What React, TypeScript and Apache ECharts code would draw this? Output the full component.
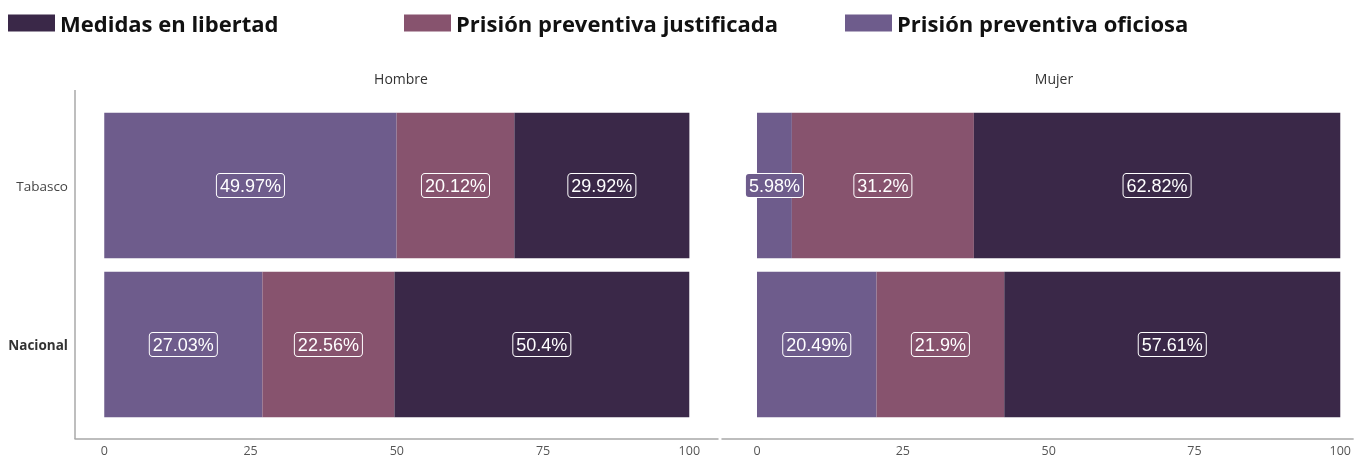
import React, { useEffect, useRef } from "react";
import * as echarts from "echarts";

const categories = ["Tabasco", "Nacional"];
const panels = ["Hombre", "Mujer"];
const seriesNames = ["Prisión preventiva oficiosa", "Prisión preventiva justificada", "Medidas en libertad"];
const legendOrder = ["Medidas en libertad", "Prisión preventiva justificada", "Prisión preventiva oficiosa"];
const colors: Record<string, string> = {
  "Medidas en libertad": "#3a2848",
  "Prisión preventiva justificada": "#87536e",
  "Prisión preventiva oficiosa": "#6e5c8c",
};
const tickValues = [0, 25, 50, 75, 100];

// values per panel: [Tabasco, Nacional]
const hombreOficiosa = [49.97, 27.03];
const hombreJustificada = [20.12, 22.56];
const hombreLibertad = [29.92, 50.4];
const mujerOficiosa = [5.98, 20.49];
const mujerJustificada = [31.2, 21.9];
const mujerLibertad = [62.82, 57.61];

export default function App() {
  const ref = useRef<HTMLDivElement>(null);
  useEffect(() => {
    if (!ref.current) return;
    const chart = echarts.init(ref.current, undefined, { renderer: "svg" });
    const font = "'Open Sans', sans-serif";
    const panelData = [
      [hombreOficiosa, hombreJustificada, hombreLibertad],
      [mujerOficiosa, mujerJustificada, mujerLibertad],
    ];
    const series: any[] = [];
    panelData.forEach((arrs, pi) => {
      arrs.forEach((vals, si) => {
        const name = seriesNames[si];
        series.push({
          type: "bar",
          name,
          stack: "s" + pi,
          xAxisIndex: pi,
          yAxisIndex: pi,
          barWidth: "91.5%",
          itemStyle: { color: colors[name] },
          label: {
            show: true,
            position: "inside",
            formatter: "{c}%",
            color: "#ffffff",
            fontSize: 18,
            fontFamily: "'Liberation Sans', Arial, sans-serif",
            backgroundColor: colors[name],
            borderColor: "#ffffff",
            borderWidth: 1,
            borderRadius: 3,
            padding: [3, 3, 2, 3],
          },
          data: vals,
        });
      });
    });
    const legendLefts = [8, 404, 845];
    const xCommon = (min: number, max: number) => ({
      type: "value",
      min,
      max,
      axisLine: { show: true, lineStyle: { color: "#a8a8a8", width: 1.5 } },
      axisTick: { show: false },
      splitLine: { show: false },
      axisLabel: {
        customValues: tickValues,
        color: "#555",
        fontSize: 12.5,
        lineHeight: 12,
        fontFamily: font,
        margin: 5,
      },
      offset: 15,
    });
    chart.setOption({
      animation: false,
      legend: legendOrder.map((n, i) => ({
        data: [n],
        left: legendLefts[i],
        top: 12,
        padding: 0,
        itemWidth: 47,
        itemHeight: 17,
        icon: "rect",
        selectedMode: false,
        textStyle: {
          fontSize: 22,
          fontWeight: "bold",
          fontFamily: "'Open Sans', sans-serif",
          color: "#111",
        },
      })),
      title: [
        { text: panels[0], left: 396, top: 66, textAlign: "center", textStyle: { fontSize: 14, fontWeight: "normal", color: "#333", fontFamily: font } },
        { text: panels[1], left: 1049, top: 66, textAlign: "center", textStyle: { fontSize: 14, fontWeight: "normal", color: "#333", fontFamily: font } },
      ],
      grid: [
        { left: 75, width: 643, top: 106, height: 318 },
        { left: 722, right: 0, top: 106, height: 318 },
      ],
      xAxis: [
        { ...xCommon(-5, 104.9), gridIndex: 0 },
        { ...xCommon(-6, 102.2), gridIndex: 1 },
      ],
      yAxis: [
        {
          type: "category",
          gridIndex: 0,
          inverse: true,
          data: categories,
          axisLine: { show: false },
          axisTick: { show: false },
          axisLabel: {
            margin: 7,
            color: "#444",
            fontSize: 13.5,
            fontFamily: font,
            formatter: (v: string) => (v === "Nacional" ? "{b|" + v + "}" : v),
            rich: { b: { fontWeight: "bold", fontSize: 13.5, color: "#333", fontFamily: font } },
          },
        },
        {
          type: "category",
          gridIndex: 1,
          inverse: true,
          data: categories,
          axisLine: { show: false },
          axisTick: { show: false },
          axisLabel: { show: false },
        },
      ],
      graphic: [
        {
          type: "line",
          shape: { x1: 75, y1: 90, x2: 75, y2: 439 },
          style: { stroke: "#a8a8a8", lineWidth: 1.5 },
        },
      ],
      series,
    });
    return () => chart.dispose();
  }, []);
  return (
    <div
      ref={ref}
      style={{ position: "fixed", left: 0, top: 0, width: 1354, height: 458 }}
    />
  );
}
